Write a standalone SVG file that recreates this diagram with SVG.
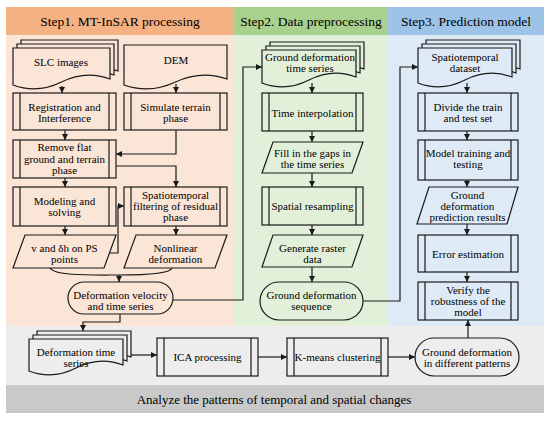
<svg xmlns="http://www.w3.org/2000/svg" width="550" height="421" viewBox="0 0 550 421" font-family="'Liberation Serif', serif">
<style>
text{font-family:'Liberation Serif',serif}
.t{font-size:11px;fill:#000;text-anchor:middle}
.h{font-size:13.5px;fill:#000;text-anchor:middle}
.s{stroke:#1a1a1a;stroke-width:1.2;fill:none}
.o{fill:#FBE5D6;stroke:#1a1a1a;stroke-width:1.2}
.g{fill:#E2F0D9;stroke:#1a1a1a;stroke-width:1.2}
.b{fill:#DEEBF7;stroke:#1a1a1a;stroke-width:1.2}
.y{fill:#EDEDED;stroke:#1a1a1a;stroke-width:1.2}
.c{stroke:#1a1a1a;stroke-width:1.2;fill:none;marker-end:url(#a)}
</style>
<defs>
<marker id="a" markerUnits="userSpaceOnUse" markerWidth="7" markerHeight="6" refX="6" refY="3" orient="auto">
<path d="M0,0 L6,3 L0,6 z" fill="#1a1a1a"/>
</marker>
</defs>
<rect x="0" y="0" width="550" height="421" fill="#fff"/>
<!-- panels -->
<rect x="6" y="7" width="228" height="28" fill="#F4B183"/>
<rect x="234" y="7" width="154" height="28" fill="#A9D18E"/>
<rect x="388" y="7" width="156" height="28" fill="#9DC3E6"/>
<rect x="6" y="35" width="228" height="291" fill="#FBE5D6"/>
<rect x="234" y="35" width="154" height="291" fill="#E2F0D9"/>
<rect x="388" y="35" width="156" height="291" fill="#DEEBF7"/>
<rect x="6" y="326" width="538" height="59" fill="#EDEDED"/>
<rect x="6" y="385" width="538" height="28" fill="#C9C9C9"/>
<text class="h" x="120" y="26">Step1. MT-InSAR processing</text>
<text class="h" x="311" y="26">Step2. Data preprocessing</text>
<text class="h" x="466" y="26">Step3. Prediction model</text>
<text class="h" x="274" y="404" style="font-size:13px">Analyze the patterns of temporal and spatial changes</text>

<!-- connectors -->
<g id="connectors">
<path class="c" d="M62,86 V93"/>
<path class="c" d="M176,84 V93"/>
<path class="c" d="M65,130 V140"/>
<path class="c" d="M176,130 V154 H116"/>
<path class="c" d="M116,166 H176 V187"/>
<path class="c" d="M65,178 V187"/>
<path class="c" d="M65,226 V235"/>
<path class="c" d="M176,226 V235"/>
<path class="c" d="M110,253 H118 V206 H124"/>
<path class="s" d="M50,268 C55,276 90,275 119,275"/>
<path class="s" d="M172,268 C170,274 140,275 119,275"/>
<path class="c" d="M119,275 V282"/>
<path class="c" d="M173,300 H243 V67 H262"/>
<path class="c" d="M120,314 V322 H83 V331"/>
<path class="c" d="M129,355 H157"/>
<path class="c" d="M258,357 H287"/>
<path class="c" d="M388,357 H415"/>
<path class="c" d="M468,338 V320"/>
<path class="c" d="M312,83 V93"/>
<path class="c" d="M312,131 V142"/>
<path class="c" d="M312,173 V187"/>
<path class="c" d="M312,225 V235"/>
<path class="c" d="M312,267 V282"/>
<path class="c" d="M363,301 H400 V67 H418"/>
<path class="c" d="M467,83 V93"/>
<path class="c" d="M467,131 V140"/>
<path class="c" d="M467,180 V187"/>
<path class="c" d="M467,224 V235"/>
<path class="c" d="M467,272 V282"/>
</g>

<!-- Step1 nodes -->
<g id="slc">
<path class="o" d="M21,40 H118 V71 Q93.75,62 69.5,74 Q45.25,86 21,77 Z"/>
<path class="o" d="M17,44 H114 V75 Q89.75,66 65.5,78 Q41.25,90 17,81 Z"/>
<path class="o" d="M13,48 H110 V79 Q85.75,70 61.5,82 Q37.25,94 13,85 Z"/>
<text class="t" x="61" y="66">SLC images</text>
</g>
<g id="dem">
<path class="o" d="M124,45 H227 V79 Q201.25,70 175.5,82 Q149.75,94 124,85 Z"/>
<text class="t" x="176" y="64">DEM</text>
</g>
<g id="registration">
<rect class="o" x="13" y="93" width="103" height="37"/>
<path class="s" d="M20,93 V130 M109,93 V130"/>
<text class="t" x="64.5" y="110.5">Registration and</text>
<text class="t" x="64.5" y="121.5">Interference</text>
</g>
<g id="simulate">
<rect class="o" x="124" y="93" width="103" height="37"/>
<path class="s" d="M131,93 V130 M220,93 V130"/>
<text class="t" x="175.5" y="110.5">Simulate terrain</text>
<text class="t" x="175.5" y="121.5">phase</text>
</g>
<g id="remove">
<rect class="o" x="13" y="140" width="103" height="38"/>
<path class="s" d="M20,140 V178 M109,140 V178"/>
<text class="t" x="64.5" y="151">Remove flat</text>
<text class="t" x="64.5" y="162.5">ground and terrain</text>
<text class="t" x="64.5" y="174">phase</text>
</g>
<g id="modeling">
<rect class="o" x="13" y="187" width="103" height="39"/>
<path class="s" d="M20,187 V226 M109,187 V226"/>
<text class="t" x="64.5" y="204.5">Modeling and</text>
<text class="t" x="64.5" y="215.5">solving</text>
</g>
<g id="filtering">
<rect class="o" x="124" y="187" width="103" height="39"/>
<path class="s" d="M131,187 V226 M220,187 V226"/>
<text class="t" x="175.5" y="199">Spatiotemporal</text>
<text class="t" x="175.5" y="210">filtering of residual</text>
<text class="t" x="175.5" y="221">phase</text>
</g>
<g id="vdh">
<path class="o" d="M25,235 H116 L104,268 H13 Z"/>
<text class="t" x="64.5" y="252">v and δh on PS</text>
<text class="t" x="64.5" y="263">points</text>
</g>
<g id="nonlinear">
<path class="o" d="M136,235 H227 L215,268 H124 Z"/>
<text class="t" x="175.5" y="252">Nonlinear</text>
<text class="t" x="175.5" y="263">deformation</text>
</g>
<g id="velocity">
<rect class="o" x="68" y="282" width="105" height="32" rx="16"/>
<text class="t" x="120.5" y="299">Deformation velocity</text>
<text class="t" x="120.5" y="310">and time series</text>
</g>

<!-- Step2 nodes -->
<g id="gdts">
<path class="g" d="M270,42 H364 V69 Q340.5,60 317,72 Q293.5,84 270,75 Z"/>
<path class="g" d="M266,46 H360 V73 Q336.5,64 313,76 Q289.5,88 266,79 Z"/>
<path class="g" d="M262,50 H356 V77 Q332.5,68 309,80 Q285.5,92 262,83 Z"/>
<text class="t" x="310" y="60.5">Ground deformation</text>
<text class="t" x="310" y="71.5">time series</text>
</g>
<g id="interp">
<rect class="g" x="262" y="93" width="101" height="38"/>
<path class="s" d="M269,93 V131 M356,93 V131"/>
<text class="t" x="312.5" y="116.5">Time interpolation</text>
</g>
<g id="fill">
<path class="g" d="M273,142 H363 L352,173 H262 Z"/>
<text class="t" x="312.5" y="157">Fill in the gaps in</text>
<text class="t" x="312.5" y="168">the time series</text>
</g>
<g id="resample">
<rect class="g" x="262" y="187" width="101" height="38"/>
<path class="s" d="M269,187 V225 M356,187 V225"/>
<text class="t" x="312.5" y="210">Spatial resampling</text>
</g>
<g id="raster">
<path class="g" d="M273,235 H363 L352,267 H262 Z"/>
<text class="t" x="312.5" y="252">Generate raster</text>
<text class="t" x="312.5" y="263">data</text>
</g>
<g id="sequence">
<rect class="g" x="260" y="282" width="103" height="38" rx="19"/>
<text class="t" x="311.5" y="299">Ground deformation</text>
<text class="t" x="311.5" y="310">sequence</text>
</g>

<!-- Step3 nodes -->
<g id="dataset">
<path class="b" d="M426,40 H520 V69 Q496.5,60 473,72 Q449.5,84 426,75 Z"/>
<path class="b" d="M422,44 H516 V73 Q492.5,64 469,76 Q445.5,88 422,79 Z"/>
<path class="b" d="M418,48 H512 V77 Q488.5,68 465,80 Q441.5,92 418,83 Z"/>
<text class="t" x="465" y="60.5">Spatiotemporal</text>
<text class="t" x="465" y="71.5">dataset</text>
</g>
<g id="divide">
<rect class="b" x="418" y="93" width="100" height="38"/>
<path class="s" d="M425,93 V131 M511,93 V131"/>
<text class="t" x="468" y="110.5">Divide the train</text>
<text class="t" x="468" y="121.5">and test set</text>
</g>
<g id="training">
<rect class="b" x="418" y="140" width="100" height="40"/>
<path class="s" d="M425,140 V180 M511,140 V180"/>
<text class="t" x="468" y="157">Model training and</text>
<text class="t" x="468" y="168">testing</text>
</g>
<g id="prediction">
<path class="b" d="M429,187 H518 L507,224 H417 Z"/>
<text class="t" x="467.5" y="199">Ground</text>
<text class="t" x="467.5" y="210">deformation</text>
<text class="t" x="467.5" y="221">prediction results</text>
</g>
<g id="error">
<rect class="b" x="418" y="235" width="100" height="37"/>
<path class="s" d="M425,235 V272 M511,235 V272"/>
<text class="t" x="468" y="257.5">Error estimation</text>
</g>
<g id="verify">
<rect class="b" x="418" y="282" width="100" height="38"/>
<path class="s" d="M425,282 V320 M511,282 V320"/>
<text class="t" x="468" y="294">Verify the</text>
<text class="t" x="468" y="305">robustness of the</text>
<text class="t" x="468" y="316">model</text>
</g>

<!-- bottom row -->
<g id="dts">
<path class="y" d="M37,331 H131 V357 Q107.5,348 84,360 Q60.5,372 37,363 Z"/>
<path class="y" d="M33,335 H127 V361 Q103.5,352 80,364 Q56.5,376 33,367 Z"/>
<path class="y" d="M29,339 H123 V365 Q99.5,356 76,368 Q52.5,380 29,371 Z"/>
<text class="t" x="76" y="355.5">Deformation time</text>
<text class="t" x="76" y="366.5">series</text>
</g>
<g id="ica">
<rect class="y" x="157" y="338" width="101" height="38"/>
<path class="s" d="M164,338 V376 M251,338 V376"/>
<text class="t" x="207.5" y="361">ICA processing</text>
</g>
<g id="kmeans">
<rect class="y" x="287" y="338" width="101" height="38"/>
<path class="s" d="M294,338 V376 M381,338 V376"/>
<text class="t" x="337.5" y="361">K-means clustering</text>
</g>
<g id="patterns">
<rect class="y" x="415" y="338" width="104" height="38" rx="19"/>
<text class="t" x="467" y="355.5">Ground deformation</text>
<text class="t" x="467" y="366.5">in different patterns</text>
</g>
</svg>
